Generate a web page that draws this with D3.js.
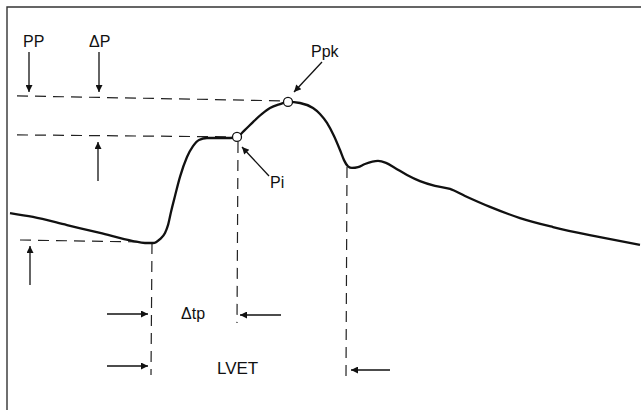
<!DOCTYPE html>
<html>
<head>
<meta charset="utf-8">
<script src="https://cdn.jsdelivr.net/npm/d3@7"></script>
<style>
  body { margin: 0; background: #fff; }
  text { font-family: "Liberation Sans", Arial, sans-serif; fill: #111; }
</style>
</head>
<body>
<script>
// pressure waveform (time in ms, pressure in mmHg, arbitrary origin)
var time = [0, 23, 57, 90, 123, 135, 143, 150, 155, 158, 161, 165, 170, 177, 183, 189, 197, 220,
            227, 235, 243, 252, 260, 270, 278, 290, 303, 310, 317, 324, 330, 334, 338, 342, 348, 355,
            368, 376, 385, 397, 410, 425, 440, 455, 480, 510, 543, 590, 630];
var pressure = [80.7, 79.3, 76.4, 73.6, 70.7, 70.0, 70.0, 71.4, 73.6, 76.4, 81.1, 86.8, 93.6, 100.7, 104.6, 106.8, 107.5, 107.5,
                107.9, 110.4, 113.2, 116.1, 118.2, 119.6, 120.4, 120.0, 118.2, 116.1, 112.9, 108.2, 103.2, 99.6, 97.4, 96.8, 97.1, 98.2,
                99.3, 98.6, 96.8, 94.3, 92.1, 90.4, 89.3, 86.8, 82.9, 78.9, 75.7, 72.1, 69.3];

// key points: onset (foot), inflection Pi, peak Ppk, end of ejection (notch)
var keyNames = ["onset", "Pi", "Ppk", "notch"];
var keyTime = [142, 227, 278, 337];
var keyPressure = [70.0, 107.9, 120.4, 97.1];

var labels = ["PP", "\u0394P", "Ppk", "Pi", "\u0394tp", "LVET"];

const width = 641;
const height = 410;

var x = d3.scaleLinear().domain([0, 630]).range([10, 640]);
var y = d3.scaleLinear().domain([70, 120]).range([243, 103]);

var svg = d3.select('body').append('svg')
    .attr('width', width)
    .attr('height', height);

var defs = svg.append('defs');
defs.append('marker')
    .attr('id', 'head')
    .attr('viewBox', '0 0 10 10')
    .attr('refX', 10).attr('refY', 5)
    .attr('markerWidth', 9).attr('markerHeight', 7)
    .attr('markerUnits', 'userSpaceOnUse')
    .attr('orient', 'auto')
    .append('path')
    .attr('d', 'M0,0 L10,5 L0,10 Z')
    .attr('fill', '#111');

// frame (only top and left edges show)
svg.append('path')
    .attr('d', 'M7,410 L7,7 L641,7')
    .attr('fill', 'none')
    .attr('stroke', '#333')
    .attr('stroke-width', 1.4);

var key = {};
keyNames.forEach(function(k, i) { key[k] = { t: keyTime[i], p: keyPressure[i] }; });

var dash = svg.append('g')
    .attr('stroke', '#222')
    .attr('stroke-width', 1.2)
    .attr('stroke-dasharray', '11,7')
    .attr('fill', 'none');

// horizontal reference lines
dash.append('line')
    .attr('x1', 17).attr('y1', y(key.Ppk.p) - 6)
    .attr('x2', x(key.Ppk.t) - 5).attr('y2', y(key.Ppk.p) - 1);
dash.append('line')
    .attr('x1', 17).attr('y1', y(key.Pi.p) - 2)
    .attr('x2', x(key.Pi.t) - 5).attr('y2', y(key.Pi.p));
dash.append('line')
    .attr('x1', 20).attr('y1', y(key.onset.p) - 3)
    .attr('x2', x(key.onset.t) - 10).attr('y2', y(key.onset.p) - 1);

// vertical time markers
dash.append('line')
    .attr('x1', x(key.onset.t)).attr('y1', y(key.onset.p))
    .attr('x2', x(key.onset.t) - 1).attr('y2', 375);
dash.append('line')
    .attr('x1', x(key.Pi.t) + 1).attr('y1', y(key.Pi.p) + 5)
    .attr('x2', x(key.Pi.t)).attr('y2', 323);
dash.append('line')
    .attr('x1', x(key.notch.t)).attr('y1', y(key.notch.p))
    .attr('x2', x(key.notch.t) - 1).attr('y2', 377);

// waveform
var data = time.map(function(t, i) { return { t: t, p: pressure[i] }; });
var line = d3.line()
    .x(function(d) { return x(d.t); })
    .y(function(d) { return y(d.p); })
    .curve(d3.curveMonotoneX);

svg.append('path')
    .datum(data)
    .attr('d', line)
    .attr('fill', 'none')
    .attr('stroke', '#111')
    .attr('stroke-width', 2.3)
    .attr('stroke-linejoin', 'round');

// marked points
svg.selectAll('circle.pt')
    .data([key.Pi, key.Ppk])
    .enter()
    .append('circle')
    .attr('class', 'pt')
    .attr('cx', function(d) { return x(d.t); })
    .attr('cy', function(d) { return y(d.p); })
    .attr('r', 4.5)
    .attr('fill', '#fff')
    .attr('stroke', '#111')
    .attr('stroke-width', 1.3);

// arrows
var arrows = [
    [29, 52, 29, 92],
    [99, 52, 99, 92],
    [98, 181, 98, 142],
    [30, 285, 30, 246],
    [269, 176, 242, 147],
    [322, 62, 294, 92],
    [107, 314, 148, 314],
    [281, 315, 240, 315],
    [107, 366, 148, 366],
    [390, 370, 351, 370]
];
svg.append('g').selectAll('line')
    .data(arrows)
    .enter()
    .append('line')
    .attr('x1', function(d) { return d[0]; })
    .attr('y1', function(d) { return d[1]; })
    .attr('x2', function(d) { return d[2]; })
    .attr('y2', function(d) { return d[3]; })
    .attr('stroke', '#111')
    .attr('stroke-width', 1.3)
    .attr('marker-end', 'url(#head)');

// labels
var labelPos = [[23, 47], [89, 47], [311, 57], [270, 188], [181, 319], [217, 374]];
var labelSize = [16, 16, 16, 16, 16, 17];
svg.append('g').selectAll('text')
    .data(labels)
    .enter()
    .append('text')
    .attr('x', function(d, i) { return labelPos[i][0]; })
    .attr('y', function(d, i) { return labelPos[i][1]; })
    .attr('font-size', function(d, i) { return labelSize[i]; })
    .text(function(d) { return d; });
</script>
</body>
</html>
